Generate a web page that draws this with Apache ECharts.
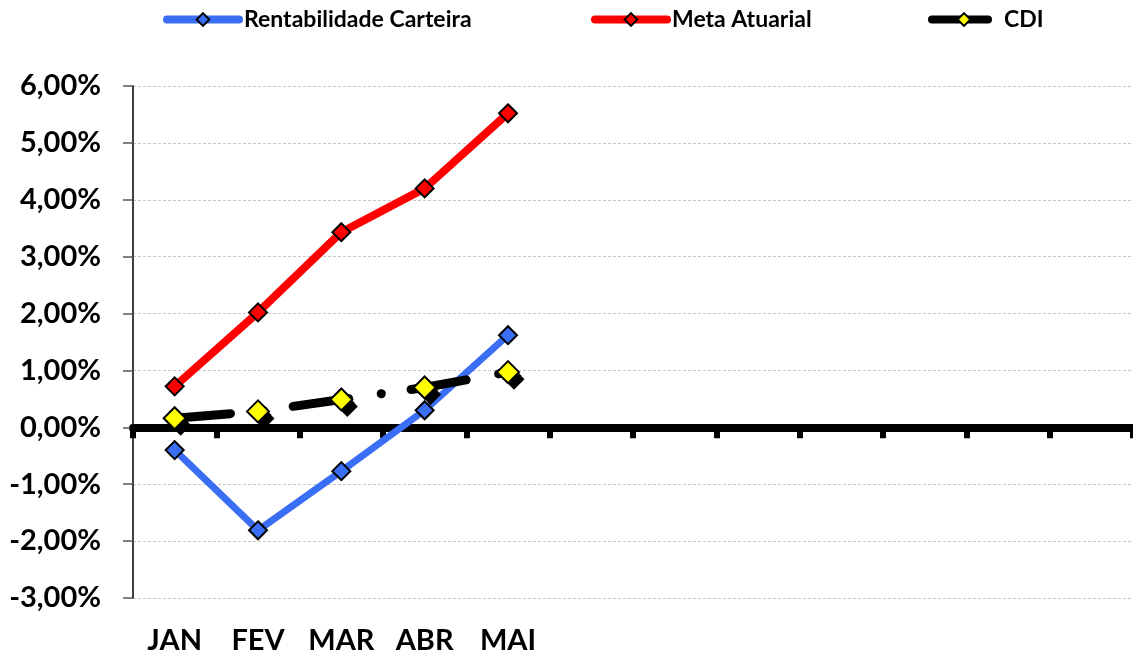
<!DOCTYPE html>
<html>
<head>
<meta charset="utf-8">
<script src="https://cdn.jsdelivr.net/npm/echarts@6/dist/echarts.min.js"></script>
<style>
  html, body { margin: 0; padding: 0; background: #fff; }
  #chart { width: 1133px; height: 657px; }
</style>
</head>
<body>
<div id="chart"></div>
<script>
// Monthly returns (%), January to December; only the first five months are filled
const months = ['JAN', 'FEV', 'MAR', 'ABR', 'MAI', '', '', '', '', '', '', ''];
const rentabilidadeCarteira = [-0.40, -1.81, -0.77, 0.30, 1.62];
const metaAtuarial = [0.72, 2.02, 3.43, 4.20, 5.52];
const cdi = [0.16, 0.28, 0.49, 0.70, 0.97];
const yTicks = { min: -3, max: 6, step: 1 };

const FONT = 'Lato, "Open Sans", sans-serif';

function pct(v) {
  return v.toFixed(2).replace('.', ',') + '%';
}

function legendAt(left, name, width, textGap) {
  return {
    top: 3,
    left: left,
    itemWidth: width,
    itemHeight: 16,
    lineStyle: { width: 8, cap: 'round' },
    textStyle: {
      fontFamily: FONT, fontWeight: 'bold', fontSize: 23, color: '#000',
      padding: [0, 0, 0, textGap]
    },
    data: [{ name: name }]
  };
}

// black block that gives the CDI diamonds their drop shadow
function cdiShadow(dx, dy) {
  return {
    name: 'CDI-sombra',
    type: 'line',
    data: cdi,
    symbol: 'diamond',
    symbolSize: 21,
    symbolOffset: [dx, dy],
    z: 4,
    silent: true,
    lineStyle: { width: 0, opacity: 0 },
    itemStyle: { color: '#000' }
  };
}

const chart = echarts.init(document.getElementById('chart'));
chart.setOption({
  animation: false,
  backgroundColor: '#ffffff',
  legend: [
    legendAt(158, 'Rentabilidade Carteira', 72, 0),
    legendAt(586, 'Meta Atuarial', 72, 0),
    legendAt(923, 'CDI', 64, 3)
  ],
  grid: { left: 133, right: 0, top: 86, bottom: 59, containLabel: false },
  xAxis: [
    {
      type: 'category',
      data: months,
      position: 'bottom',
      boundaryGap: true,
      axisLine: { show: false, onZero: false },
      axisTick: { show: false },
      splitLine: { show: false },
      axisLabel: {
        interval: 0,
        margin: 28,
        fontFamily: FONT,
        fontWeight: 'bold',
        fontSize: 29,
        color: '#000'
      }
    },
    {
      type: 'category',
      data: months,
      position: 'bottom',
      boundaryGap: true,
      axisLine: { show: true, onZero: true, lineStyle: { color: '#000', width: 8 } },
      axisTick: { show: true, interval: 0, length: 11, lineStyle: { color: '#000', width: 6 } },
      axisLabel: { show: false },
      splitLine: { show: false }
    }
  ],
  yAxis: {
    type: 'value',
    min: yTicks.min,
    max: yTicks.max,
    interval: yTicks.step,
    axisLine: { show: true, lineStyle: { color: '#000', width: 1.5 } },
    axisTick: { show: true, length: 10, lineStyle: { color: '#555', width: 1.5 } },
    splitLine: { show: true, lineStyle: { color: '#c8c8c8', type: [3, 2], width: 1 } },
    axisLabel: {
      margin: 32,
      fontFamily: FONT,
      fontWeight: 'bold',
      fontSize: 29,
      color: '#000',
      formatter: pct
    }
  },
  series: [
    {
      name: 'Rentabilidade Carteira',
      type: 'line',
      data: rentabilidadeCarteira,
      symbol: 'diamond',
      symbolSize: 18,
      z: 3,
      lineStyle: { color: '#3a6ef5', width: 7 },
      itemStyle: { color: '#3a6ef5', borderColor: '#000', borderWidth: 2 }
    },
    {
      name: 'Meta Atuarial',
      type: 'line',
      data: metaAtuarial,
      symbol: 'diamond',
      symbolSize: 18,
      z: 3,
      lineStyle: { color: '#ff0000', width: 8 },
      itemStyle: { color: '#ff0000', borderColor: '#000', borderWidth: 2 }
    },
    cdiShadow(3, 3.5),
    cdiShadow(6, 7),
    {
      name: 'CDI',
      type: 'line',
      data: cdi,
      symbol: 'diamond',
      symbolSize: 22,
      z: 5,
      lineStyle: { color: '#000', width: 9, type: [56, 33, 0.1, 30], cap: 'round' },
      itemStyle: { color: '#ffff00', borderColor: '#000', borderWidth: 2 }
    }
  ]
});
</script>
</body>
</html>
